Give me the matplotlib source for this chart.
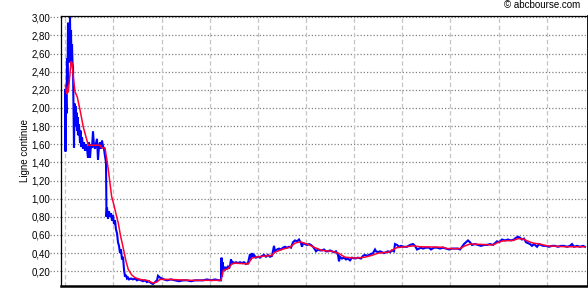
import matplotlib
matplotlib.use("Agg")
import matplotlib.pyplot as plt
import matplotlib.transforms as mtransforms

# ---- data (trading-day index, value) ----
price_days = [4, 4.5, 5, 5.5, 6, 6.5, 7, 7.5, 8, 8.5, 9, 9.5, 10, 10.5, 11, 11.5, 12, 12.5, 13, 13.5,
              14, 14.5, 15, 15.5, 16, 16.5, 17, 18, 19, 19.5, 20, 21, 22, 23, 24, 25, 26, 27, 28, 29,
              30, 31, 32, 33, 34, 35, 36, 37, 38, 39, 40, 41, 42, 43, 44, 45, 45.5, 46, 47, 48,
              49, 50, 51, 52, 53, 54, 55, 56, 57, 58, 59, 60, 61, 62, 63, 64, 65, 66, 67, 68,
              70, 72, 74, 76, 78, 80, 82, 84, 86, 88, 90, 92, 94, 96, 97, 99, 101, 103, 106, 110,
              114, 118, 122, 126, 130, 134, 138, 142, 146, 150, 154, 158, 160, 160.5, 161, 161.5, 162, 163, 164, 165,
              166, 167, 168, 169, 170, 171, 172, 173, 175, 177, 179, 181, 183, 185, 187, 189, 190, 191, 192, 193,
              195, 197, 199, 201, 203, 205, 207, 209, 211, 213, 214, 216, 218, 220, 222, 224, 226, 228, 230, 232,
              234, 236, 238, 240, 241, 242, 244, 246, 248, 250, 252, 254, 255, 257, 259, 261, 263, 265, 267, 269,
              271, 273, 275, 277, 278, 279, 281, 283, 285, 287, 289, 291, 294, 297, 300, 302, 304, 306, 308, 310,
              312, 314, 315, 317, 319, 321, 323, 325, 327, 329, 331, 333, 334, 336, 338, 340, 343, 346, 349, 352,
              354, 356, 358, 360, 362, 365, 368, 370, 373, 376, 379, 382, 385, 388, 391, 394, 397, 399, 401, 403,
              405, 407, 409, 411, 414, 417, 420, 423, 426, 429, 432, 434, 436, 438, 441, 444, 447, 450, 453, 455,
              457, 459, 461, 463, 465, 467, 469, 471, 473, 476, 478, 480, 482, 485, 488, 491, 494, 497, 500, 503,
              506, 509, 511, 513, 516, 519, 522, 524]
price = [2.20, 1.52, 2.15, 1.94, 2.55, 2.25, 2.94, 2.50, 2.75, 2.60, 3.00, 2.55, 2.86, 2.48, 2.70, 2.50, 2.45, 1.95, 1.56, 2.05,
         1.80, 2.02, 1.85, 1.95, 1.75, 1.90, 1.70, 1.82, 1.62, 1.75, 1.57, 1.68, 1.55, 1.62, 1.53, 1.60, 1.55, 1.45, 1.62, 1.45,
         1.60, 1.56, 1.74, 1.58, 1.55, 1.61, 1.66, 1.43, 1.58, 1.62, 1.55, 1.64, 1.58, 1.55, 1.47, 1.40, 0.80, 0.90, 0.78, 0.86,
         0.80, 0.84, 0.76, 0.82, 0.72, 0.76, 0.66, 0.62, 0.52, 0.48, 0.40, 0.44, 0.33, 0.36, 0.22, 0.14, 0.16, 0.12, 0.13, 0.11,
         0.12, 0.11, 0.12, 0.10, 0.11, 0.10, 0.09, 0.10, 0.08, 0.09, 0.07, 0.06, 0.08, 0.10, 0.15, 0.13, 0.12, 0.11, 0.10, 0.11,
         0.10, 0.09, 0.10, 0.10, 0.09, 0.10, 0.10, 0.10, 0.11, 0.10, 0.11, 0.10, 0.10, 0.35, 0.14, 0.30, 0.22, 0.24, 0.22, 0.24,
         0.23, 0.25, 0.23, 0.26, 0.33, 0.28, 0.30, 0.29, 0.30, 0.29, 0.30, 0.29, 0.30, 0.28, 0.29, 0.39, 0.33, 0.40, 0.36, 0.38,
         0.35, 0.36, 0.35, 0.37, 0.38, 0.36, 0.38, 0.36, 0.37, 0.48, 0.42, 0.44, 0.45, 0.44, 0.46, 0.47, 0.46, 0.47, 0.46, 0.52,
         0.54, 0.53, 0.55, 0.51, 0.47, 0.51, 0.50, 0.49, 0.50, 0.49, 0.47, 0.44, 0.42, 0.44, 0.43, 0.43, 0.44, 0.42, 0.42, 0.43,
         0.42, 0.41, 0.42, 0.38, 0.31, 0.36, 0.34, 0.35, 0.33, 0.34, 0.32, 0.35, 0.34, 0.35, 0.34, 0.37, 0.38, 0.37, 0.38, 0.39,
         0.40, 0.44, 0.42, 0.41, 0.42, 0.41, 0.40, 0.41, 0.42, 0.41, 0.43, 0.42, 0.50, 0.49, 0.47, 0.48, 0.47, 0.47, 0.49, 0.50,
         0.48, 0.44, 0.45, 0.46, 0.45, 0.46, 0.46, 0.44, 0.46, 0.46, 0.45, 0.46, 0.45, 0.44, 0.45, 0.45, 0.45, 0.44, 0.47, 0.50,
         0.52, 0.54, 0.52, 0.49, 0.50, 0.49, 0.48, 0.49, 0.49, 0.50, 0.49, 0.51, 0.53, 0.52, 0.55, 0.54, 0.55, 0.54, 0.55, 0.57,
         0.58, 0.57, 0.55, 0.56, 0.52, 0.51, 0.50, 0.48, 0.50, 0.47, 0.50, 0.49, 0.48, 0.48, 0.47, 0.48, 0.48, 0.47, 0.48, 0.48,
         0.47, 0.48, 0.50, 0.47, 0.48, 0.47, 0.48, 0.47]

avg_days = [4.3, 5.7, 7.3, 9, 10, 11, 12.3, 14, 16.3, 19, 22.3, 25, 27.3, 39, 40.7, 44, 45.7, 47.3, 49, 50.7,
            52, 54, 55.7, 57.3, 59.7, 61, 63.3, 65, 67.3, 70.7, 74, 79, 86, 92, 95.7, 99, 109, 130, 159, 160,
            162.3, 167.3, 170.7, 174, 187.3, 190.7, 197.3, 210.7, 214, 220.7, 229, 234, 239, 247.3, 254, 260.7, 270.7, 277.3, 284, 294,
            304, 310.7, 317.3, 327.3, 335.7, 344, 352.3, 359, 382.3, 385.7, 399, 404, 409, 422.3, 432.3, 437.3, 442.3, 452.3, 457.3, 462.3,
            467.3, 472.3, 479, 485.7, 505.7, 524]
avg = [2.25, 2.16, 2.18, 2.38, 2.51, 2.50, 2.34, 2.18, 2.12, 1.98, 1.79, 1.68, 1.59, 1.59, 1.56, 1.56, 1.44, 1.32, 1.17, 1.02,
       0.97, 0.88, 0.80, 0.73, 0.58, 0.52, 0.40, 0.31, 0.22, 0.16, 0.13, 0.11, 0.10, 0.07, 0.08, 0.11, 0.11, 0.10, 0.10, 0.10,
       0.21, 0.23, 0.28, 0.29, 0.28, 0.345, 0.36, 0.375, 0.41, 0.44, 0.465, 0.51, 0.525, 0.495, 0.46, 0.43, 0.42, 0.40, 0.355, 0.345,
       0.355, 0.375, 0.40, 0.41, 0.46, 0.47, 0.48, 0.47, 0.465, 0.45, 0.45, 0.48, 0.50, 0.495, 0.49, 0.52, 0.535, 0.54, 0.56, 0.555,
       0.53, 0.51, 0.50, 0.48, 0.47, 0.47]

y_ticks = [0.2, 0.4, 0.6, 0.8, 1.0, 1.2, 1.4, 1.6, 1.8, 2.0, 2.2, 2.4, 2.6, 2.8, 3.0]
y_labels = ["0,20", "0,40", "0,60", "0,80", "1,00", "1,20", "1,40", "1,60", "1,80", "2,00",
            "2,20", "2,40", "2,60", "2,80", "3,00"]
month_ticks = [4.3, 52.4, 100.6, 148.7, 196.9, 245.0, 293.1, 341.3, 389.4, 437.6, 485.7]
y_title = "Ligne continue"
credit = "\u00a9 abcbourse.com"

# ---- figure ----
W, H = 588, 300
fig = plt.figure(figsize=(W / 100, H / 100), dpi=100)
fig.patch.set_facecolor("white")
left_px, right_px, top_px, bottom_px = 60.5, 587.5, 16.3, 285.5
ax = fig.add_axes([left_px / W, 1 - bottom_px / H, (right_px - left_px) / W, (bottom_px - top_px) / H])

font = "Liberation Sans"

ax.set_xlim(-0.5, 526.5)
ax.set_ylim(0.043, 3.011)

ax.set_yticks(y_ticks)
ax.set_yticklabels(y_labels, fontsize=7, family=font)
ax.set_xticks(month_ticks)
ax.set_xticklabels([])
ax.tick_params(axis="x", length=0)
ax.tick_params(axis="y", length=0, pad=7.5)

for v in y_ticks:
    ax.axhline(v, color="#808080", lw=0.9, ls=(0, (1, 1.6)), zorder=1)
for d in month_ticks:
    ax.axvline(d, color="#c4c4c4", lw=0.9, ls=(0, (3.5, 2.2)), zorder=1)

# dotted tick marks outside the axis
trans = mtransforms.blended_transform_factory(ax.transAxes, ax.transData)
for v in y_ticks:
    ax.plot([-0.019, 0], [v, v], transform=trans, color="#808080", lw=0.9,
            ls=(0, (1, 1.6)), clip_on=False)

ax.plot(price_days, price, color="#0000ff", lw=1.5, zorder=3, solid_joinstyle="miter")
ax.plot(avg_days, avg, color="#ff0033", lw=1.1, zorder=4)

for s in ["left", "top"]:
    ax.spines[s].set_linewidth(0.9)
ax.spines["right"].set_linewidth(1.3)
ax.spines["bottom"].set_linewidth(1.8)
for s in ax.spines.values():
    s.set_color("black")

ax.set_ylabel(y_title, fontsize=7, family=font)
ax.yaxis.set_label_coords(-0.057, 0.5)

fig.text(580 / W, 1 - 5.5 / H, credit, ha="right", va="center", fontsize=7, family=font)

fig.savefig("out.png", dpi=100)
